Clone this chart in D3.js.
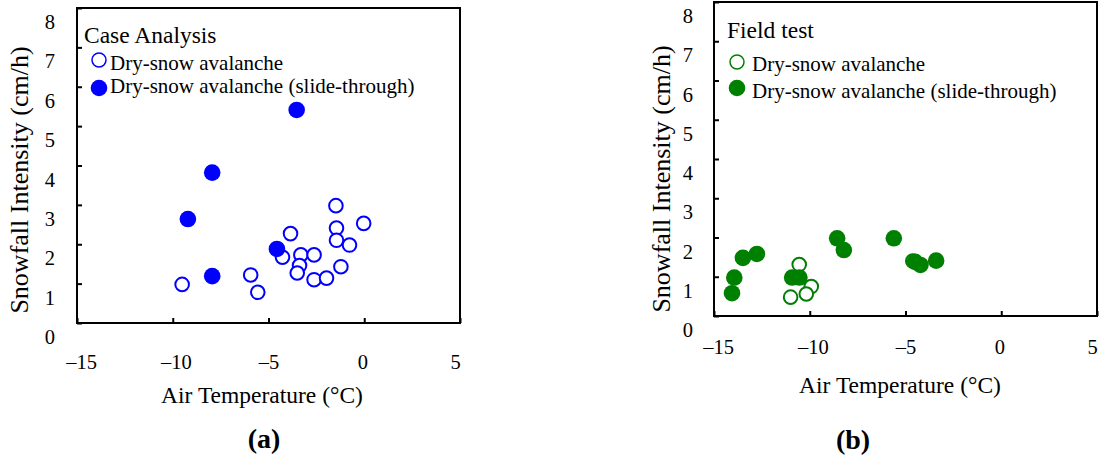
<!DOCTYPE html>
<html>
<head>
<meta charset="utf-8">
<script src="https://cdn.jsdelivr.net/npm/d3@7"></script>
<style>
  html, body { margin: 0; padding: 0; background: #fff; }
  svg { display: block; font-family: "Liberation Serif", "Times New Roman", serif; }
</style>
</head>
<body>
<svg id="chart" width="1099" height="459"></svg>
<script>
// ---- Data ----
const xTicks = [-15, -10, -5, 0, 5];
const yTicks = [0, 1, 2, 3, 4, 5, 6, 7, 8];

// Panel (a): Case Analysis
const caseOpenT  = [-9.51, -5.93, -5.56, -4.27, -3.85, -3.31, -3.38, -3.50, -2.62, -2.62, -1.97, -1.48, -1.45, -1.45, -0.77, -1.22, -0.03];
const caseOpenS  = [0.98, 1.22, 0.78, 1.67, 2.27, 1.73, 1.46, 1.27, 1.73, 1.10, 1.14, 2.98, 2.41, 2.10, 1.98, 1.43, 2.53];
const caseSlideT = [-3.53, -7.94, -9.21, -4.56, -7.94];
const caseSlideS = [5.41, 3.82, 2.64, 1.88, 1.19];

// Panel (b): Field test
const fieldOpenT  = [-10.55, -9.92, -10.18, -11.0, -4.62];
const fieldOpenS  = [1.31, 0.75, 0.56, 0.48, 1.40];
const fieldSlideT = [-14.06, -13.94, -13.49, -12.76, -10.92, -10.54, -8.57, -8.22, -5.61, -4.50, -4.22, -3.40];
const fieldSlideS = [0.58, 0.98, 1.48, 1.58, 0.98, 0.98, 1.98, 1.68, 1.98, 1.38, 1.30, 1.41];

const legendLabels = ["Dry-snow avalanche", "Dry-snow avalanche (slide-through)"];
const xTitle = "Air Temperature (°C)";
const yTitle = "Snowfall Intensity (cm/h)";

const svg = d3.select("#chart");
const fmt = d => d < 0 ? "\u2013" + Math.abs(d) : String(d);
const xLabelShift = [4, 3, 0, -2, -5];

const panels = [
  {
    x0: 77, x1: 460, y0: 323, y1: 8, color: "#0000ff",
    openT: caseOpenT, openS: caseOpenS, slideT: caseSlideT, slideS: caseSlideS,
    header: "Case Analysis", headerX: 84, headerY: 43,
    legX: 99, legY: [60, 88], legTextX: 110, legTextY: [70, 93],
    xPad: 31, yPad: 22, xTitleX: 262, xTitleY: 403, yTitleX: 28, yTitleY: 180,
    tag: "(a)", tagX: 264, tagY: 448
  },
  {
    x0: 714, x1: 1097, y0: 316, y1: 2, color: "#008000",
    openT: fieldOpenT, openS: fieldOpenS, slideT: fieldSlideT, slideS: fieldSlideS,
    header: "Field test", headerX: 727, headerY: 38,
    legX: 737, legY: [62, 88], legTextX: 752, legTextY: [71, 98],
    xPad: 23, yPad: 21, xTitleX: 900, xTitleY: 393, yTitleX: 670, yTitleY: 179,
    tag: "(b)", tagX: 853, tagY: 449
  }
];

panels.forEach(p => {
  const x = d3.scaleLinear().domain([-15, 5]).range([p.x0, p.x1]);
  const y = d3.scaleLinear().domain([0, 8]).range([p.y0, p.y1]);
  const g = svg.append("g");

  // X axis (inward ticks)
  const xa = g.append("g").attr("transform", `translate(0,${p.y0})`)
    .call(d3.axisBottom(x).tickValues(xTicks).tickSizeInner(-5).tickSizeOuter(0).tickPadding(p.xPad).tickFormat(fmt));
  xa.attr("font-family", null);
  xa.select(".domain").remove();
  xa.selectAll("line").attr("stroke", "#000").attr("stroke-width", 2);
  xa.selectAll("text").attr("font-size", 20.5).attr("fill", "#000")
    .attr("font-family", "Liberation Serif")
    .attr("dx", (d, i) => xLabelShift[i]);

  // Y axis (inward ticks, labels shifted down)
  const ya = g.append("g").attr("transform", `translate(${p.x0},0)`)
    .call(d3.axisLeft(y).tickValues(yTicks).tickSizeInner(-5).tickSizeOuter(0).tickPadding(p.yPad).tickFormat(d3.format("d")));
  ya.attr("font-family", null);
  ya.select(".domain").remove();
  ya.selectAll("line").attr("stroke", "#000").attr("stroke-width", 2);
  ya.selectAll("text").attr("font-size", 20.5).attr("fill", "#000").attr("font-family", "Liberation Serif")
    .attr("dy", "1em");

  // Frame
  g.append("rect")
    .attr("x", x(-15)).attr("y", y(8))
    .attr("width", x(5) - x(-15)).attr("height", y(0) - y(8))
    .attr("fill", "none").attr("stroke", "#000").attr("stroke-width", 2);

  // Open markers first
  g.selectAll("circle.open").data(d3.range(p.openT.length)).enter().append("circle")
    .attr("cx", i => x(p.openT[i])).attr("cy", i => y(p.openS[i])).attr("r", 6.8)
    .attr("fill", "#fff").attr("stroke", p.color).attr("stroke-width", 2);
  // Filled markers
  g.selectAll("circle.fill").data(d3.range(p.slideT.length)).enter().append("circle")
    .attr("cx", i => x(p.slideT[i])).attr("cy", i => y(p.slideS[i])).attr("r", 8.3)
    .attr("fill", p.color);

  // Legend
  g.append("text").attr("x", p.headerX).attr("y", p.headerY).attr("font-size", 23.5).text(p.header);
  g.append("circle").attr("cx", p.legX).attr("cy", p.legY[0]).attr("r", 7)
    .attr("fill", "#fff").attr("stroke", p.color).attr("stroke-width", 1.5);
  g.append("circle").attr("cx", p.legX).attr("cy", p.legY[1]).attr("r", 8.3).attr("fill", p.color);
  legendLabels.forEach((t, i) => {
    g.append("text").attr("x", p.legTextX).attr("y", p.legTextY[i]).attr("font-size", 21).text(t);
  });

  // Axis titles
  g.append("text").attr("x", p.xTitleX).attr("y", p.xTitleY).attr("font-size", 23.5)
    .attr("text-anchor", "middle").text(xTitle);
  g.append("text").attr("transform", `translate(${p.yTitleX},${p.yTitleY}) rotate(-90)`)
    .attr("font-size", 26).attr("text-anchor", "middle").text(yTitle);

  // Panel tag
  g.append("text").attr("x", p.tagX).attr("y", p.tagY).attr("font-size", 28).attr("font-weight", "bold")
    .attr("text-anchor", "middle").text(p.tag);
});
</script>
</body>
</html>
